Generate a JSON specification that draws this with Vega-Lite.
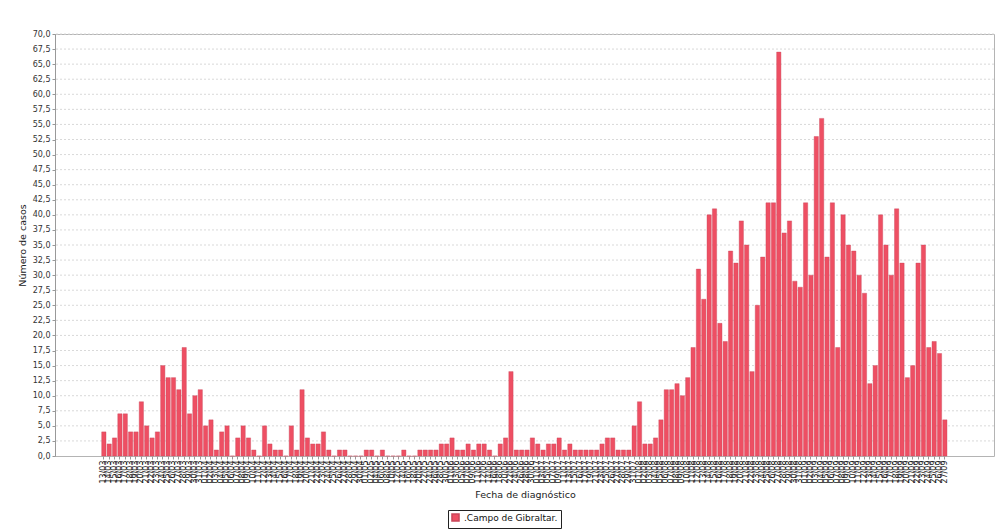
{
  "$schema": "https://vega.github.io/schema/vega-lite/v6.json",
  "width": 939,
  "height": 422,
  "autosize": {"type": "none"},
  "padding": {"left": 55, "top": 34, "right": 6, "bottom": 74},
  "background": "white",
  "config": {
    "font": "DejaVu Sans",
    "view": {"stroke": "#b4b4b4", "strokeWidth": 1}
  },
  "encoding": {
    "y": {
      "field": "casos",
      "type": "quantitative",
      "title": "Número de casos",
      "scale": {"domain": [0, 70], "nice": false},
      "axis": {
        "values": [0,2.5,5,7.5,10,12.5,15,17.5,20,22.5,25,27.5,30,32.5,35,37.5,40,42.5,45,47.5,50,52.5,55,57.5,60,62.5,65,67.5,70],
        "labelExpr": "replace(format(datum.value, '.1f'), '.', ',')",
        "labelFontSize": 8,
        "labelColor": "#333333",
        "labelOverlap": false,
        "tickSize": 3,
        "tickColor": "#999999",
        "domainColor": "#999999",
        "grid": false,
        "titleFontSize": 9.5,
        "titleFontWeight": "normal",
        "titleColor": "#222222",
        "titlePadding": 5
      }
    }
  },
  "layer": [
    {
      "data": {
        "values": [
          {"casos":2.5},{"casos":5},{"casos":7.5},{"casos":10},{"casos":12.5},{"casos":15},{"casos":17.5},{"casos":20},{"casos":22.5},{"casos":25},{"casos":27.5},{"casos":30},{"casos":32.5},{"casos":35},{"casos":37.5},{"casos":40},{"casos":42.5},{"casos":45},{"casos":47.5},{"casos":50},{"casos":52.5},{"casos":55},{"casos":57.5},{"casos":60},{"casos":62.5},{"casos":65},{"casos":67.5},{"casos":70}
        ]
      },
      "mark": {"type": "rule", "color": "#d9d9d9", "strokeWidth": 1, "strokeDash": [2, 2]}
    },
    {
      "data": {
        "values": [
          {"fecha":"13/03","casos":4},{"fecha":"14/03","casos":2},{"fecha":"15/03","casos":3},{"fecha":"16/03","casos":7},{"fecha":"17/03","casos":7},{"fecha":"18/03","casos":4},{"fecha":"19/03","casos":4},{"fecha":"20/03","casos":9},{"fecha":"21/03","casos":5},{"fecha":"22/03","casos":3},{"fecha":"23/03","casos":4},{"fecha":"24/03","casos":15},{"fecha":"25/03","casos":13},{"fecha":"26/03","casos":13},{"fecha":"27/03","casos":11},{"fecha":"28/03","casos":18},{"fecha":"29/03","casos":7},{"fecha":"30/03","casos":10},{"fecha":"31/03","casos":11},
          {"fecha":"01/04","casos":5},{"fecha":"02/04","casos":6},{"fecha":"03/04","casos":1},{"fecha":"04/04","casos":4},{"fecha":"05/04","casos":5},{"fecha":"06/04","casos":0},{"fecha":"07/04","casos":3},{"fecha":"08/04","casos":5},{"fecha":"09/04","casos":3},{"fecha":"10/04","casos":1},{"fecha":"11/04","casos":0},{"fecha":"12/04","casos":5},{"fecha":"13/04","casos":2},{"fecha":"14/04","casos":1},{"fecha":"15/04","casos":1},{"fecha":"16/04","casos":0},{"fecha":"17/04","casos":5},{"fecha":"18/04","casos":1},{"fecha":"19/04","casos":11},{"fecha":"20/04","casos":3},{"fecha":"21/04","casos":2},{"fecha":"22/04","casos":2},{"fecha":"23/04","casos":4},{"fecha":"24/04","casos":1},{"fecha":"25/04","casos":0},{"fecha":"26/04","casos":1},{"fecha":"27/04","casos":1},{"fecha":"28/04","casos":0},{"fecha":"29/04","casos":0},{"fecha":"30/04","casos":0},
          {"fecha":"01/05","casos":1},{"fecha":"02/05","casos":1},{"fecha":"04/05","casos":0},{"fecha":"06/05","casos":1},{"fecha":"08/05","casos":0},{"fecha":"10/05","casos":0},{"fecha":"12/05","casos":0},{"fecha":"14/05","casos":1},{"fecha":"16/05","casos":0},{"fecha":"18/05","casos":0},{"fecha":"20/05","casos":1},{"fecha":"22/05","casos":1},{"fecha":"24/05","casos":1},{"fecha":"26/05","casos":1},{"fecha":"28/05","casos":2},{"fecha":"30/05","casos":2},
          {"fecha":"01/06","casos":3},{"fecha":"03/06","casos":1},{"fecha":"05/06","casos":1},{"fecha":"07/06","casos":2},{"fecha":"09/06","casos":1},{"fecha":"11/06","casos":2},{"fecha":"12/06","casos":2},{"fecha":"14/06","casos":1},{"fecha":"16/06","casos":0},{"fecha":"18/06","casos":2},{"fecha":"20/06","casos":3},{"fecha":"22/06","casos":14},{"fecha":"24/06","casos":1},{"fecha":"26/06","casos":1},{"fecha":"28/06","casos":1},{"fecha":"30/06","casos":3},
          {"fecha":"01/07","casos":2},{"fecha":"03/07","casos":1},{"fecha":"05/07","casos":2},{"fecha":"07/07","casos":2},{"fecha":"09/07","casos":3},{"fecha":"11/07","casos":1},{"fecha":"13/07","casos":2},{"fecha":"15/07","casos":1},{"fecha":"16/07","casos":1},{"fecha":"17/07","casos":1},{"fecha":"19/07","casos":1},{"fecha":"21/07","casos":1},{"fecha":"23/07","casos":2},{"fecha":"25/07","casos":3},{"fecha":"26/07","casos":3},{"fecha":"27/07","casos":1},{"fecha":"28/07","casos":1},{"fecha":"29/07","casos":1},{"fecha":"31/07","casos":5},
          {"fecha":"01/08","casos":9},{"fecha":"02/08","casos":2},{"fecha":"03/08","casos":2},{"fecha":"04/08","casos":3},{"fecha":"05/08","casos":6},{"fecha":"06/08","casos":11},{"fecha":"07/08","casos":11},{"fecha":"08/08","casos":12},{"fecha":"09/08","casos":10},{"fecha":"10/08","casos":13},{"fecha":"11/08","casos":18},{"fecha":"12/08","casos":31},{"fecha":"13/08","casos":26},{"fecha":"14/08","casos":40},{"fecha":"15/08","casos":41},{"fecha":"16/08","casos":22},{"fecha":"17/08","casos":19},{"fecha":"18/08","casos":34},{"fecha":"19/08","casos":32},{"fecha":"20/08","casos":39},{"fecha":"21/08","casos":35},{"fecha":"22/08","casos":14},{"fecha":"23/08","casos":25},{"fecha":"24/08","casos":33},{"fecha":"25/08","casos":42},{"fecha":"26/08","casos":42},{"fecha":"27/08","casos":67},{"fecha":"28/08","casos":37},{"fecha":"29/08","casos":39},{"fecha":"30/08","casos":29},{"fecha":"31/08","casos":28},
          {"fecha":"01/09","casos":42},{"fecha":"02/09","casos":30},{"fecha":"03/09","casos":53},{"fecha":"04/09","casos":56},{"fecha":"05/09","casos":33},{"fecha":"06/09","casos":42},{"fecha":"07/09","casos":18},{"fecha":"08/09","casos":40},{"fecha":"09/09","casos":35},{"fecha":"10/09","casos":34},{"fecha":"11/09","casos":30},{"fecha":"12/09","casos":27},{"fecha":"13/09","casos":12},{"fecha":"14/09","casos":15},{"fecha":"15/09","casos":40},{"fecha":"16/09","casos":35},{"fecha":"17/09","casos":30},{"fecha":"18/09","casos":41},{"fecha":"19/09","casos":32},{"fecha":"20/09","casos":13},{"fecha":"21/09","casos":15},{"fecha":"22/09","casos":32},{"fecha":"23/09","casos":35},{"fecha":"24/09","casos":18},{"fecha":"25/09","casos":19},{"fecha":"26/09","casos":17},{"fecha":"27/09","casos":6}
        ]
      },
      "mark": {"type": "bar", "stroke": "#c9475a", "strokeWidth": 0.4},
      "encoding": {
        "x": {
          "field": "fecha",
          "type": "ordinal",
          "sort": null,
          "title": "Fecha de diagnóstico",
          "scale": {"paddingInner": 0.2, "paddingOuter": 0, "range": [46.7, 892]},
          "axis": {
            "labelAngle": -90,
            "labelFontSize": 8,
            "labelColor": "#222222",
            "labelOverlap": false,
            "labelPadding": 1,
            "tickSize": 3,
            "tickColor": "#999999",
            "domain": false,
            "titleFontSize": 9.5,
            "titleFontWeight": "normal",
            "titleColor": "#222222",
            "titlePadding": 6,
            "titleX": 470,
            "grid": false
          }
        },
        "color": {
          "datum": ".Campo de Gibraltar.",
          "scale": {"range": ["#ee4f63"]},
          "legend": {
            "title": null,
            "orient": "none",
            "legendX": 393,
            "legendY": 476,
            "symbolType": "square",
            "symbolSize": 50,
            "labelFontSize": 9,
            "labelColor": "#111111",
            "strokeColor": "#222222",
            "padding": 3
          }
        }
      }
    }
  ]
}
